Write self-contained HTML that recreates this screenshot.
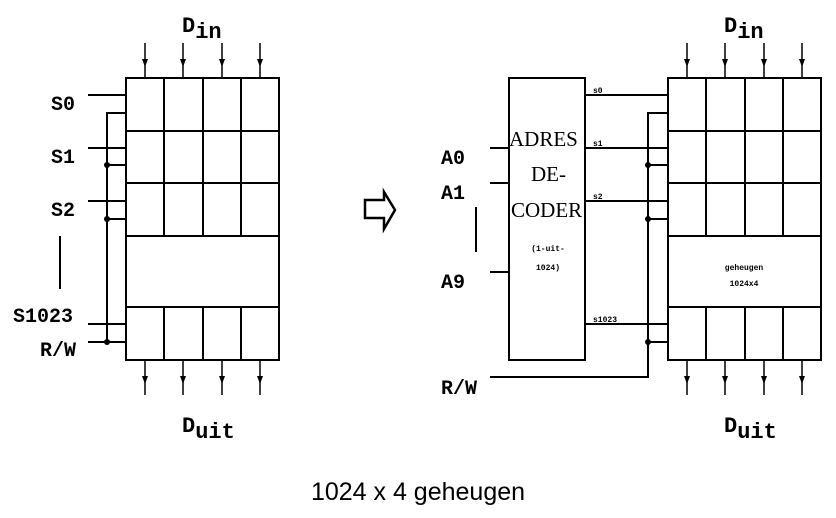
<!DOCTYPE html>
<html><head><meta charset="utf-8"><style>body{margin:0;background:#fff}svg{display:block}</style></head><body>
<svg width="836" height="518" viewBox="0 0 836 518" xmlns="http://www.w3.org/2000/svg">
<g stroke="#000" stroke-width="2" fill="none">
<rect x="126" y="78" width="153" height="282"/>
<line x1="126" y1="131" x2="279" y2="131"/><line x1="126" y1="183" x2="279" y2="183"/><line x1="126" y1="236" x2="279" y2="236"/><line x1="126" y1="307" x2="279" y2="307"/>
<path d="M164 78V236M203 78V236M241 78V236M164 307V360M203 307V360M241 307V360"/>
<path d="M88 95H126M88 148H126M88 201H126M88 324H126M88 342H126M107 342V113H126M107 165H126M107 219H126M60 236V289"/>
<rect x="668" y="78" width="153" height="282"/>
<line x1="668" y1="131" x2="821" y2="131"/><line x1="668" y1="183" x2="821" y2="183"/><line x1="668" y1="236" x2="821" y2="236"/><line x1="668" y1="307" x2="821" y2="307"/>
<path d="M706 78V236M745 78V236M783 78V236M706 307V360M745 307V360M783 307V360"/>
<rect x="509" y="78" width="76" height="282"/>
<path d="M585 95H668M585 148H668M585 201H668M585 324H668M490 377H648V113H668M648 165H668M648 219H668M648 342H668M490 148H509M490 183H509M490 272H509M476 207V252"/>
<path d="M365 200H384V192L395 210L384 229V218H365Z" stroke-width="2.5"/>
</g>
<g stroke="#000" stroke-width="1.5">
<path d="M145 43V78M183 43V78M222 43V78M260 43V78M145 360V395M183 360V395M222 360V395M260 360V395M687 43V78M725 43V78M764 43V78M802 43V78M687 360V395M725 360V395M764 360V395M802 360V395"/>
</g>
<g fill="#000">
<path d="M142 59h6l-3 8zM180 59h6l-3 8zM219 59h6l-3 8zM257 59h6l-3 8zM684 59h6l-3 8zM722 59h6l-3 8zM761 59h6l-3 8zM799 59h6l-3 8z"/>
<path d="M142 376h6l-3 8zM180 376h6l-3 8zM219 376h6l-3 8zM257 376h6l-3 8zM684 376h6l-3 8zM722 376h6l-3 8zM761 376h6l-3 8zM799 376h6l-3 8z"/>
<circle cx="107" cy="165" r="3"/><circle cx="107" cy="219" r="3"/><circle cx="107" cy="342" r="3"/><circle cx="648" cy="165" r="3"/><circle cx="648" cy="219" r="3"/><circle cx="648" cy="342" r="3"/></g>
<g font-family="Liberation Mono, monospace" font-weight="bold" font-size="20" fill="#000">
<text x="51" y="110">S0</text><text x="51" y="163">S1</text><text x="51" y="216">S2</text><text x="13" y="322">S1023</text><text x="40" y="356">R/W</text>
<text x="182" y="32" font-size="22">D<tspan dy="6">in</tspan></text>
<text x="182" y="432" font-size="22">D<tspan dy="6">uit</tspan></text>
<text x="724" y="32" font-size="22">D<tspan dy="6">in</tspan></text>
<text x="724" y="432" font-size="22">D<tspan dy="6">uit</tspan></text>
<text x="441" y="164">A0</text><text x="441" y="199">A1</text><text x="441" y="288">A9</text><text x="441" y="394">R/W</text>
<g font-size="8"><text x="593" y="93">s0</text><text x="593" y="146">s1</text><text x="593" y="199">s2</text><text x="593" y="322">s1023</text>
<text x="744" y="270" text-anchor="middle">geheugen</text><text x="744" y="286" text-anchor="middle">1024x4</text>
<text x="548" y="251" text-anchor="middle">(1-uit-</text><text x="548" y="270" text-anchor="middle">1024)</text></g>
</g>
<g font-family="Liberation Serif, serif" font-size="21" fill="#000">
<text x="509" y="146">ADRES</text><text x="531" y="181">DE-</text><text x="511" y="217">CODER</text>
</g>
<text x="418" y="500" text-anchor="middle" font-family="Liberation Sans, sans-serif" font-size="25" fill="#000">1024 x 4 geheugen</text>
</svg>
</body></html>
